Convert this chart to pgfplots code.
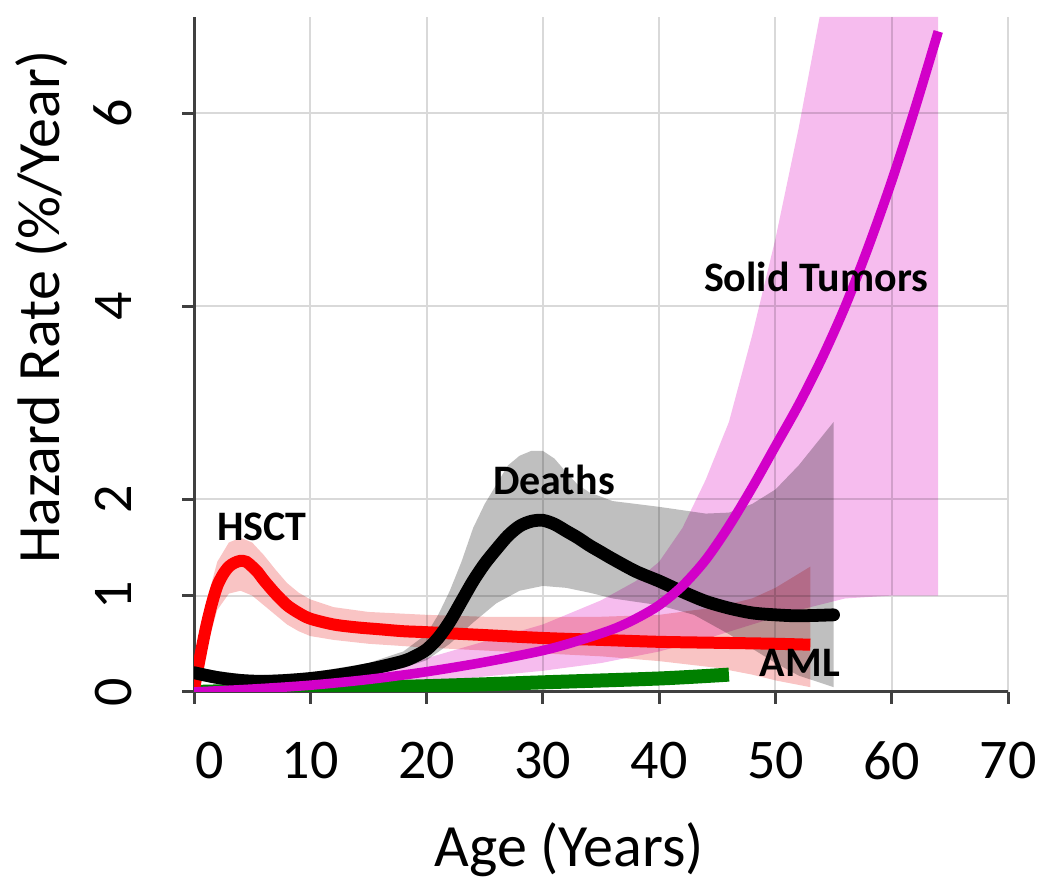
\documentclass[border=0pt]{standalone}
\usepackage{fontspec}
\setmainfont{Carlito}
\usepackage{pgfplots}
\pgfplotsset{compat=1.18}
\usepackage{pgfplotstable}

\definecolor{redline}{RGB}{255,0,0}
\definecolor{redband}{RGB}{249,196,196}
\definecolor{greyband}{RGB}{191,191,191}
\definecolor{pinkband}{RGB}{246,188,238}
\definecolor{magline}{RGB}{210,0,200}
\definecolor{greenline}{RGB}{0,128,0}
\definecolor{gridc}{RGB}{217,217,217}
\definecolor{axisc}{RGB}{64,64,64}

% HSCT hazard (red line)
\pgfplotstableread{
x y
0 0.03
0.5 0.35
1 0.65
1.5 0.9
2 1.1
2.5 1.22
3 1.3
3.5 1.34
4 1.36
4.5 1.35
5 1.3
5.5 1.24
6 1.16
7 1.02
8 0.9
9 0.82
10 0.76
12 0.70
14 0.67
16 0.65
18 0.63
20 0.62
25 0.59
30 0.56
35 0.54
40 0.52
45 0.51
50 0.50
53 0.49
}\hsct

% HSCT confidence band (polygon: upper then lower reversed)
\pgfplotstableread{
x y
0 0.08
1 0.9
2 1.35
3 1.55
4 1.6
5 1.55
6 1.42
7 1.27
8 1.13
9 1.03
10 0.96
12 0.88
15 0.83
20 0.80
25 0.78
30 0.78
35 0.78
40 0.80
45 0.88
48 0.97
50 1.08
53 1.3
53 0.05
50 0.12
48 0.18
45 0.25
40 0.32
35 0.37
30 0.40
25 0.43
20 0.46
15 0.5
12 0.54
10 0.58
9 0.63
8 0.7
7 0.8
6 0.9
5 1.0
4 1.05
3 1.02
2 0.85
1 0.42
0 0
}\hsctband

% Deaths hazard (black line)
\pgfplotstableread{
x y
0 0.2
2 0.15
4 0.12
6 0.11
8 0.12
10 0.14
12 0.17
14 0.21
16 0.26
18 0.32
19 0.37
20 0.44
21 0.56
22 0.73
23 0.94
24 1.15
25 1.33
26 1.48
27 1.62
28 1.72
29 1.77
30 1.78
31 1.74
32 1.67
33 1.6
34 1.52
35 1.45
36 1.38
38 1.25
40 1.15
42 1.04
44 0.94
46 0.87
48 0.82
50 0.8
52 0.79
55 0.80
}\deaths

% Deaths confidence band
\pgfplotstableread{
x y
0 0.25
5 0.17
10 0.2
15 0.3
18 0.42
20 0.6
21 0.8
22 1.05
23 1.35
24 1.7
25 1.95
26 2.15
27 2.35
28 2.45
29 2.5
30 2.5
31 2.42
32 2.28
33 2.15
34 2.07
36 1.98
40 1.92
44 1.85
46 1.86
48 1.95
50 2.1
52 2.35
54 2.65
55 2.8
55 0.05
52 0.17
50 0.3
48 0.45
46 0.6
43 0.8
40 0.9
36 0.97
34 1.03
32 1.08
30 1.1
28 1.05
26 0.92
24 0.72
22 0.5
20 0.33
18 0.25
15 0.18
10 0.1
5 0.08
0 0.15
}\deathsband

% Solid tumors hazard (magenta line)
\pgfplotstableread{
x y
0 0
5 0.03
10 0.07
15 0.13
20 0.21
25 0.31
30 0.43
33 0.53
36 0.65
38 0.76
40 0.9
42 1.1
44 1.37
46 1.72
48 2.12
50 2.55
52 2.98
54 3.46
56 4.0
58 4.62
60 5.3
62 6.05
64 6.85
}\solid

% Solid tumors confidence band
\pgfplotstableread{
x y
0 0.02
10 0.12
20 0.35
30 0.7
35 0.95
38 1.15
40 1.35
42 1.7
44 2.2
46 2.8
48 3.7
50 4.7
52 5.85
53.8 7
64 7
64 1.0
60 1.0
56 0.97
52 0.85
48 0.7
44 0.55
40 0.42
35 0.3
30 0.22
20 0.1
10 0.03
0 0
}\solidband

% AML hazard (green line)
\pgfplotstableread{
x y
0 0
10 0.03
20 0.06
30 0.1
40 0.14
46 0.18
}\aml

\begin{document}
\begin{tikzpicture}
\begin{axis}[
  name=ax,
  scale only axis,
  width=203.5pt, height=168.75pt,
  xmin=0, xmax=70, ymin=0, ymax=7,
  axis lines*=left,
  axis line style={axisc, line width=0.75pt},
  xtick={0,10,...,70},
  xticklabels={\hspace*{8pt}0,10,20,30,40,50,60,70},
  ytick={0,1,2,4,6},
  grid=major,
  grid style={gridc, line width=0.5pt},
  tick align=outside,
  major tick length=3pt,
  tick style={axisc, line width=0.75pt},
  /pgf/number format/assume math mode=true,
  ticklabel style={font=\fontsize{14}{16}\selectfont},
  xticklabel style={anchor=north},
  yticklabel style={rotate=90, anchor=south},
  xticklabel shift=6pt,
  yticklabel shift=9pt,
  xlabel={Age (Years)},
  ylabel={Hazard Rate (\%/Year)},
  label style={font=\fontsize{15}{18}\selectfont},
  xlabel style={at={(axis description cs:0.461,-0.234)}, anchor=center},
  ylabel style={at={(axis description cs:-0.187,0.570)}, anchor=center},
]
\addplot[fill=redband, draw=none, blend mode=multiply] table {\hsctband} -- cycle;
\addplot[fill=greyband, draw=none, blend mode=multiply] table {\deathsband} -- cycle;
\addplot[fill=pinkband, draw=none, blend mode=multiply] table {\solidband} -- cycle;
\addplot[greenline, line width=3.5pt, smooth] table {\aml};
\addplot[redline, line width=3pt, smooth] table {\hsct};
\addplot[black, line width=3.2pt, smooth, line cap=round] table {\deaths};
\addplot[magline, line width=2.4pt, smooth] table {\solid};
\node[font=\bfseries\fontsize{10.5}{12}\selectfont] at (axis cs:5.85,1.71) {HSCT};
\node[font=\bfseries\fontsize{10.5}{12}\selectfont] at (axis cs:30.95,2.20) {Deaths};
\node[font=\bfseries\fontsize{10.5}{12}\selectfont] at (axis cs:53.5,4.30) {Solid Tumors};
\node[font=\bfseries\fontsize{10.5}{12}\selectfont] at (axis cs:52.1,0.30) {AML};
\end{axis}
\pgfresetboundingbox
\path[use as bounding box] ([xshift=-48.5pt,yshift=-49.5pt]ax.south west) rectangle ([xshift=8.75pt,yshift=4.25pt]ax.north east);
\end{tikzpicture}
\end{document}
